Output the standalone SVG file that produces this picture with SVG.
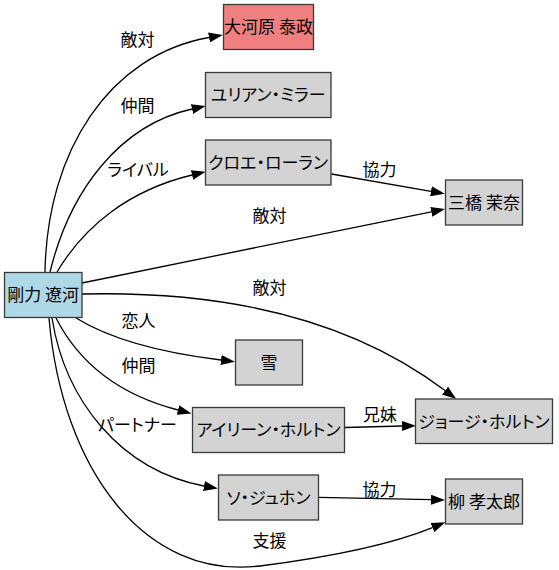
<svg xmlns="http://www.w3.org/2000/svg" width="559" height="570" viewBox="0 0 559 570">
<style>
text{font-family:"Noto Sans CJK JP","Liberation Sans",sans-serif;font-size:17px;text-anchor:middle;font-feature-settings:"palt";fill:#000}
.n rect{stroke:#3a3a3a;stroke-width:1.3;fill:#d3d3d3}
.e path{fill:none;stroke:#000;stroke-width:1.3;marker-end:url(#ah)}
</style>
<defs>
<marker id="ah" markerWidth="14" markerHeight="10" refX="0" refY="5" orient="auto" markerUnits="userSpaceOnUse"><path d="M0,0 L14,5 L0,10 z" fill="#000"/></marker>
</defs>
<rect width="559" height="570" fill="#fff"/>
<g id="edges" class="e">
<path d="M45,272 C47,150 110,55 209,37.5"/>
<path d="M50,272 C70,190 120,125 192,109"/>
<path d="M57,272 C85,225 130,190 192,175"/>
<path d="M331.5,174 L431,191.3"/>
<path d="M82,283 L431.3,211.8"/>
<path d="M82,294 C250,290 365,330 445,390.6"/>
<path d="M76,318 C120,345 180,355 221,360"/>
<path d="M56,318 C80,365 120,395 178,410"/>
<path d="M52,318 C65,400 120,470 204,486"/>
<path d="M345,427.5 L402,426"/>
<path d="M318.5,497.3 L431,499.7"/>
<path d="M49,318 C62,470 145,580 260,566 C330,557 390,545 432.4,527.6"/>
</g>
<g id="edge-labels">
<text x="137.5" y="45.5">敵対</text>
<text x="137.5" y="111.5">仲間</text>
<text x="138" y="175.5">ライバル</text>
<text x="379.5" y="175.5">協力</text>
<text x="269.5" y="221.5">敵対</text>
<text x="269.5" y="293.5">敵対</text>
<text x="138.5" y="327">恋人</text>
<text x="138.5" y="371.5">仲間</text>
<text x="137.5" y="430.5">パートナー</text>
<text x="380" y="421">兄妹</text>
<text x="379.5" y="495.5">協力</text>
<text x="269.5" y="546.5">支援</text>
</g>
<g id="n-gouriki" class="n"><rect x="4.5" y="272.5" width="77.5" height="45" style="fill:#add8e6"/><text x="43.2" y="301">剛力 遼河</text></g>
<g id="n-ookawara" class="n"><rect x="223.5" y="4.5" width="90" height="45" style="fill:#f08080"/><text x="268.5" y="33">大河原 泰政</text></g>
<g id="n-yurian" class="n"><rect x="205.5" y="72.5" width="125.5" height="45"/><text x="268.2" y="101">ユリアン・ミラー</text></g>
<g id="n-kuroe" class="n"><rect x="205.5" y="140" width="125.5" height="45"/><text x="268.2" y="168.5">クロエ・ローラン</text></g>
<g id="n-mitsuhashi" class="n"><rect x="445.5" y="180" width="77" height="45"/><text x="484" y="208.5">三橋 茉奈</text></g>
<g id="n-yuki" class="n"><rect x="235.5" y="340" width="67" height="45"/><text x="269" y="368.5">雪</text></g>
<g id="n-airin" class="n"><rect x="192.5" y="407.5" width="152" height="45"/><text x="268.5" y="436">アイリーン・ホルトン</text></g>
<g id="n-george" class="n"><rect x="415.5" y="399" width="137" height="44.5"/><text x="484" y="427.5">ジョージ・ホルトン</text></g>
<g id="n-so" class="n"><rect x="218.5" y="475" width="100" height="45"/><text x="268.5" y="503.5">ソ・ジュホン</text></g>
<g id="n-yanagi" class="n"><rect x="445.5" y="479" width="77" height="45"/><text x="484" y="507.5">柳 孝太郎</text></g>
</svg>
